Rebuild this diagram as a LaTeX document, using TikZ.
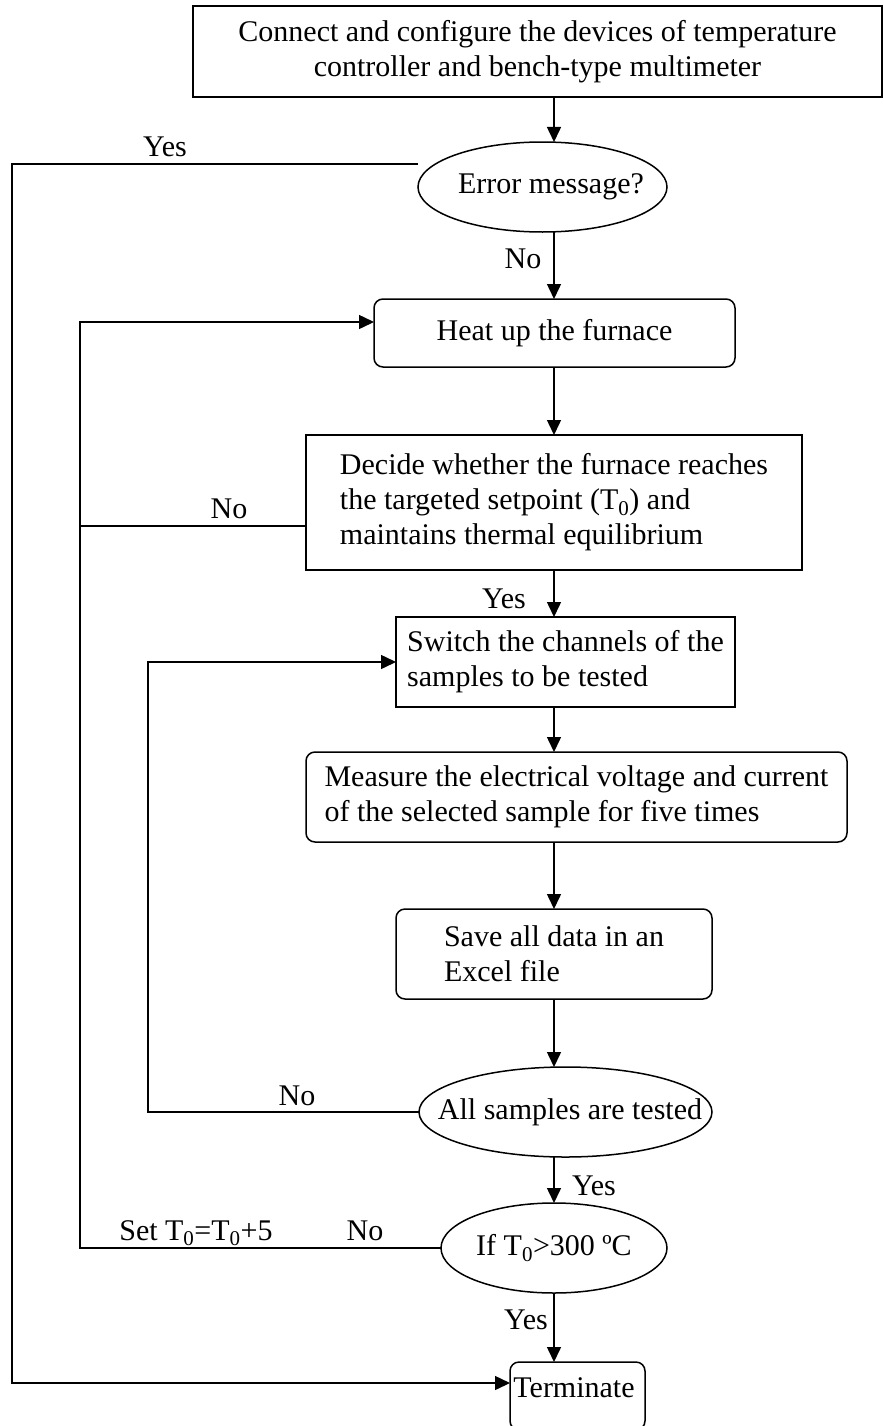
\documentclass[tikz,border=0pt]{standalone}
\usepackage{fontspec}
\setmainfont{Liberation Serif}
\usetikzlibrary{shapes.geometric,arrows.meta}
\begin{document}
\begin{tikzpicture}[x=1pt,y=-1pt,
  font=\fontsize{30}{35}\selectfont,
  base/.style={draw,line width=1.5pt,inner sep=0pt,outer sep=0pt,align=left},
  sqbox/.style={base,rectangle},
  rbox/.style={base,rectangle,rounded corners=9pt},
  oval/.style={base,ellipse},
  flow/.style={line width=1.5pt,-{Triangle[length=15pt,width=14pt]}},
  wire/.style={line width=1.5pt},
  lab/.style={anchor=base,inner sep=0pt}]
\useasboundingbox (0,0) rectangle (883,1426);
\clip (0,0) rectangle (883,1426);

% process steps
\node[sqbox,align=center,minimum width=689pt,minimum height=91pt] (setup) at (537.5,51.5)
  {Connect and configure the devices of temperature\\controller and bench-type multimeter};
\node[oval,minimum width=249pt,minimum height=90pt] (err) at (542.5,187)
  {\makebox[0pt]{\kern17pt Error message?}};
\node[rbox,minimum width=361pt,minimum height=68pt] (heat) at (554.5,333) {Heat up the furnace};
\node[sqbox,minimum width=496pt,minimum height=135pt] (decide) at (554,502.5)
  {Decide whether the furnace reaches\\the targeted setpoint (T\textsubscript{0}) and\\maintains thermal equilibrium};
\node[sqbox,minimum width=339pt,minimum height=90pt] (switch) at (565.5,662)
  {Switch the channels of the\\samples to be tested};
\node[rbox,minimum width=541pt,minimum height=90pt] (measure) at (576.5,797)
  {Measure the electrical voltage and current\\of the selected sample for five times};
\node[rbox,minimum width=316pt,minimum height=90pt] (save) at (554,954)
  {Save all data in an\\Excel file};
\node[oval,minimum width=293pt,minimum height=90pt] (alltest) at (565.5,1112)
  {\makebox[0pt]{\kern9pt All samples are tested}};
\node[oval,minimum width=226pt,minimum height=90pt] (cond) at (554,1248)
  {\makebox[0pt]{If T\textsubscript{0}>300 ºC}};
\node[rbox,minimum width=135pt,minimum height=68pt] (stop) at (577.5,1396) {};
\node[inner sep=0pt] (stoptext) at (574,1388) {Terminate};

% rails and rows used by the loop-backs
\coordinate (axis) at (554,0);
\coordinate (leftrail) at (12,0);
\coordinate (midrail) at (80,0);
\coordinate (innerrail) at (148,0);
\coordinate (errrow) at (0,164);
\coordinate (heatrow) at (0,322);
\coordinate (norow) at (0,526);
\coordinate (termrow) at (0,1383);

% main flow
\draw[flow] (setup.south -| axis) -- (err.north -| axis);
\draw[flow] (err.south -| axis) -- (heat.north -| axis);
\draw[flow] (heat.south -| axis) -- (decide.north -| axis);
\draw[flow] (decide.south -| axis) -- (switch.north -| axis);
\draw[flow] (switch.south -| axis) -- (measure.north -| axis);
\draw[flow] (measure.south -| axis) -- (save.north -| axis);
\draw[flow] (save.south -| axis) -- (alltest.north -| axis);
\draw[flow] (alltest.south -| axis) -- (cond.north -| axis);
\draw[flow] (cond.south -| axis) -- (stop.north -| axis);

% loop-backs
\draw[flow] (err.west |- errrow) -- (leftrail |- errrow) -- (leftrail |- termrow) -- (stop.west |- termrow);
\draw[wire] (decide.west |- norow) -- (midrail |- norow);
\draw[flow] (cond.west) -- (cond.west -| midrail) -- (midrail |- heatrow) -- (heat.west |- heatrow);
\draw[flow] (alltest.west) -- (alltest.west -| innerrail) -- (innerrail |- switch.west) -- (switch.west);

% branch labels
\node[lab] (lyes1) at (165,157) {Yes};
\node[lab] (lno1) at (523,268) {No};
\node[lab] (lno2) at (229,518) {No};
\node[lab] (lyes2) at (504,608) {Yes};
\node[lab] (lno3) at (297,1105) {No};
\node[lab] (lyes3) at (594,1195) {Yes};
\node[lab] (lno4) at (365,1240) {No};
\node[lab] (lset) at (196,1240) {Set T\textsubscript{0}=T\textsubscript{0}+5};
\node[lab] (lyes4) at (526,1329) {Yes};
\end{tikzpicture}
\end{document}
